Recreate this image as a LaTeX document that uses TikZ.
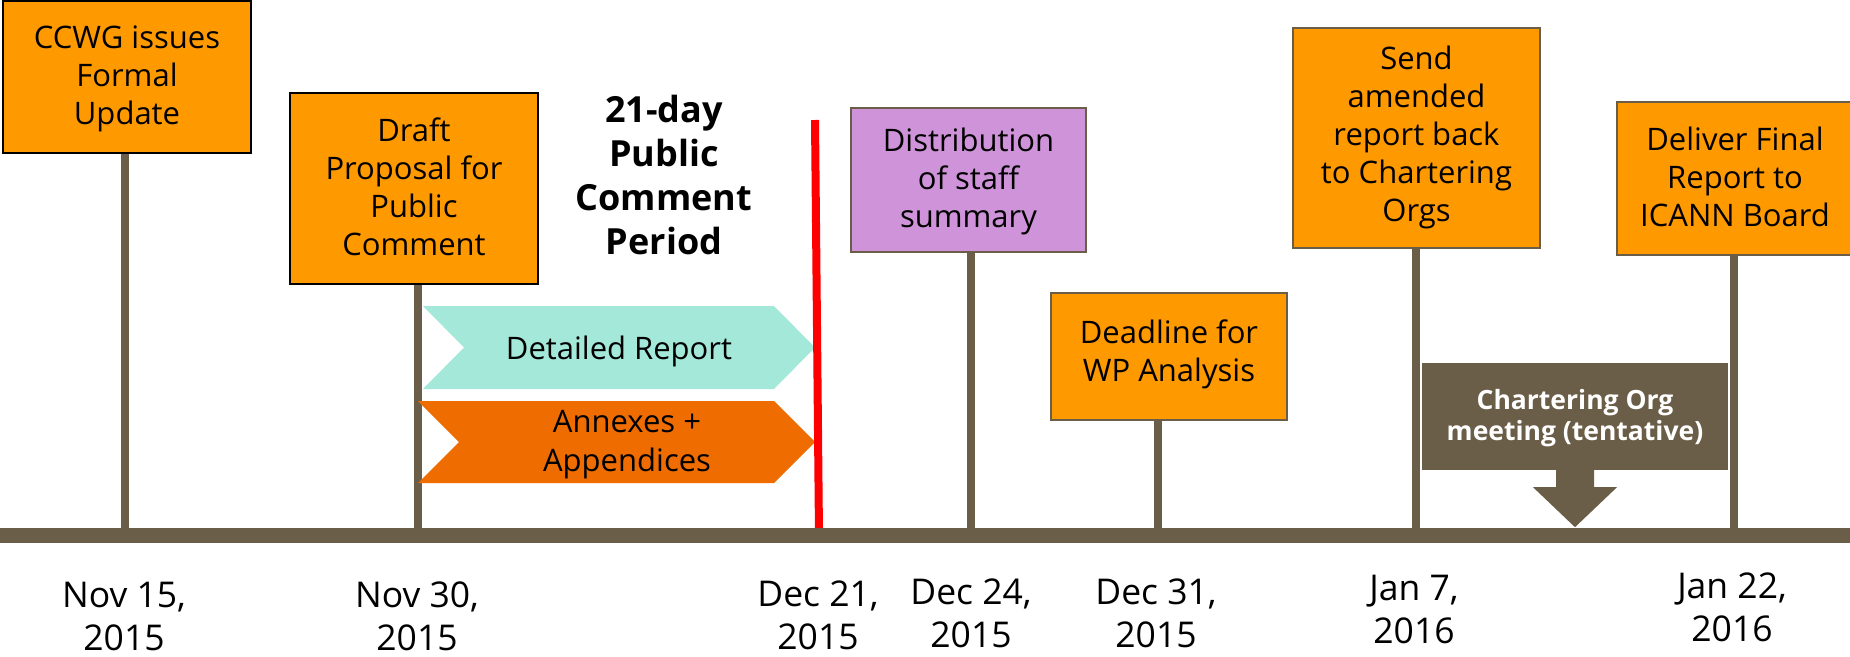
\documentclass[tikz,border=0pt]{standalone}
\usepackage{fontspec}
\setmainfont{Open Sans}
\definecolor{boxorange}{HTML}{FF9900}
\definecolor{darkorange}{HTML}{EE6C00}
\definecolor{tealc}{HTML}{A3E8D9}
\definecolor{purplec}{HTML}{CE93D8}
\definecolor{brownc}{HTML}{6B5E48}
\definecolor{redc}{HTML}{FF0000}
\newcommand\Tstr{\rule{0pt}{0.9em}}
\newcommand\Bstr{\rule[-0.25em]{0pt}{0.25em}}
\newcommand\Bstrx[1]{\rule[\dimexpr-0.25em-#1\relax]{0pt}{\dimexpr0.25em+#1\relax}}
\begin{document}
\begin{tikzpicture}[x=1pt,y=-1pt,
  evbox/.style={draw=brownc, line width=2pt, fill=boxorange, inner sep=0pt, align=center,
    font=\fontsize{31}{38}\selectfont},
  blkbox/.style={evbox, draw=black, line width=1.6pt},
  stem/.style={draw=brownc, line width=8pt},
  datelbl/.style={inner sep=0pt, align=center, font=\fontsize{35.5}{43}\selectfont},
  flagtext/.style={inner sep=0pt, align=center, font=\fontsize{31}{39}\selectfont}]
\useasboundingbox (0,0) rectangle (1850,656);
\fill[white] (0,0) rectangle (1850,656);

% axis coordinates
\coordinate (axL) at (0,535);
\coordinate (axR) at (1850,535);
\coordinate (s1) at (125,535);
\coordinate (s2) at (418,535);
\coordinate (s3) at (971,535);
\coordinate (s4) at (1158,535);
\coordinate (s5) at (1416,535);
\coordinate (s6) at (1734,535);
\coordinate (rtop) at (815,120);
\coordinate (rbot) at (819,535);

% boxes
\node[blkbox, minimum width=248, minimum height=152] (ccwg) at (127,77)
  {\Tstr CCWG issues\\Formal\\Update\Bstrx{2pt}};
\node[blkbox, minimum width=248, minimum height=191] (draft) at (414,188.5)
  {\Tstr Draft\\Proposal for\\Public\\Comment\Bstr};
\node[evbox, fill=purplec, minimum width=235, minimum height=144] (dist) at (968.5,180)
  {\Tstr Distribution\\of staff\\summary\Bstrx{2pt}};
\node[evbox, minimum width=236, minimum height=127] (dead) at (1169,356.5)
  {\Tstr Deadline for\\WP Analysis\Bstrx{8pt}};
\node[evbox, minimum width=247, minimum height=220] (send) at (1416.5,138)
  {\Tstr Send\\amended\\report back\\to Chartering\\Orgs\Bstrx{6pt}};
\node[evbox, minimum width=236, minimum height=153] (deliv) at (1735,178.5)
  {\Tstr Deliver Final\\Report to\\ICANN Board\Bstr};

% stems
\draw[stem] (s1) -- (s1 |- ccwg.south);
\draw[stem] (s2) -- (s2 |- draft.south);
\draw[stem] (s3) -- (s3 |- dist.south);
\draw[stem] (s4) -- (s4 |- dead.south);
\draw[stem] (s5) -- (s5 |- send.south);
\draw[stem] (s6) -- (s6 |- deliv.south);

% public comment period
\node[inner sep=0pt, align=center, font=\bfseries\fontsize{36}{44}\selectfont] (period) at (664,177)
  {\Tstr 21-day\\Public\\Comment\\Period\Bstr};
\fill[tealc] (423,306) -- (774,306) -- (815,347.5) -- (774,389) -- (423,389) -- (464,347.5) -- cycle;
\node[flagtext, anchor=base] (detr) at (619,359) {Detailed Report};
\fill[darkorange] (418,401) -- (774,401) -- (815,442) -- (774,483) -- (418,483) -- (459,442) -- cycle;
\node[flagtext] (annex) at (627,442) {\Tstr Annexes +\\Appendices\Bstr};

% red line
\draw[draw=redc, line width=8pt] (rtop) -- (rbot);

% chartering org meeting
\node[fill=brownc, inner sep=0pt, minimum width=306, minimum height=107, text=white, align=center,
  font=\bfseries\fontsize{26.5}{31}\selectfont] (chor) at (1575,416.5)
  {\Tstr Chartering Org\\meeting (tentative)\Bstr};
\fill[brownc] (chor.south) +(-19,-1) -- +(-19,17) -- +(-42,17) -- +(0,57) -- +(42,17) -- +(19,17) -- +(19,-1) -- cycle;

% axis
\draw[draw=brownc, line width=15pt] (axL) -- (axR);

% dates
\node[datelbl] (d1) at (124,617) {\Tstr Nov 15,\\2015\Bstr};
\node[datelbl] (d2) at (417,617) {\Tstr Nov 30,\\2015\Bstr};
\node[datelbl] (d3) at (818,616) {\Tstr Dec 21,\\2015\Bstr};
\node[datelbl] (d4) at (971,614) {\Tstr Dec 24,\\2015\Bstr};
\node[datelbl] (d5) at (1156,614) {\Tstr Dec 31,\\2015\Bstr};
\node[datelbl] (d6) at (1414,610.5) {\Tstr Jan 7,\\2016\Bstr};
\node[datelbl] (d7) at (1732,608.5) {\Tstr Jan 22,\\2016\Bstr};
\end{tikzpicture}
\end{document}
